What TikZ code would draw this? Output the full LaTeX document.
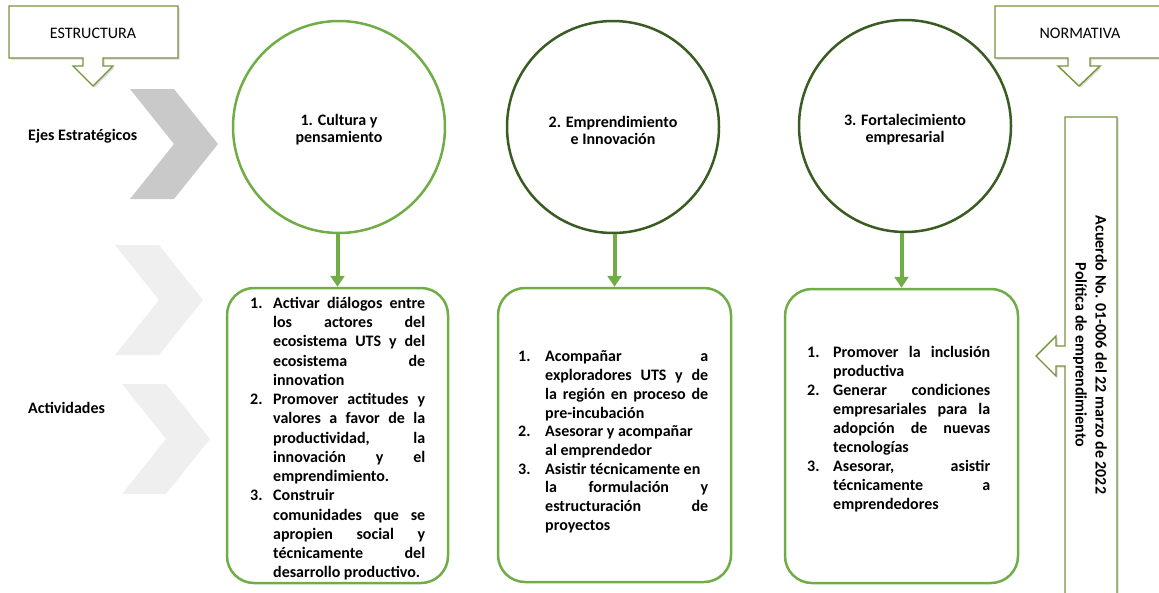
\documentclass[tikz,border=0pt]{standalone}
\usepackage{fontspec}
\setmainfont{Carlito}
\usepackage{tikz}
\usetikzlibrary{shapes, arrows.meta, positioning, shadows}
\definecolor{lightgreen}{HTML}{70AD47}
\definecolor{darkgreen}{HTML}{3A5C22}
\definecolor{olivegreen}{HTML}{77933C}
\definecolor{chevdark}{HTML}{C9C9C9}
\definecolor{chevlight}{HTML}{EFEFEF}
\tikzstyle{eje} = [draw=lightgreen, circle, line width=2.5pt, minimum size=212pt, inner sep=0pt]
\tikzstyle{ejetext} = [inner sep=0pt, align=center, font=\bfseries\fontsize{16}{17}\selectfont]
\tikzstyle{actbox} = [draw=lightgreen, rectangle, rounded corners=27pt, line width=2.5pt]
\tikzstyle{acttext} = [anchor=north west, inner sep=0pt, align=justify, font=\bfseries\fontsize{16}{19}\selectfont]
\tikzstyle{callout} = [draw=olivegreen, line width=1.4pt, fill=white, drop shadow={shadow xshift=1.5pt, shadow yshift=-1.5pt, opacity=0.3}]
\tikzstyle{conn} = [draw=lightgreen, line width=4pt, -{Triangle[width=14pt,length=11pt]}]
\tikzstyle{rowlabel} = [anchor=west, inner sep=0pt, font=\bfseries\fontsize{16}{19}\selectfont]
\newcommand{\actnum}[2]{\par\hangindent=#1\hangafter=1\noindent\makebox[#1][l]{\rule{0pt}{14pt}#2}}
\newcommand{\chevshape}[3]{\fill[#3] (#1,#2) -- ++(44,0) -- ++(44,55) -- ++(-44,55) -- ++(-44,0) -- ++(44,-55) -- cycle;}

\begin{document}
\begin{tikzpicture}[x=1pt, y=-1pt, >=latex]
  \clip (0,0) rectangle (1159,592);
  \chevshape{130}{89}{chevdark}
  \chevshape{115}{245}{chevlight}
  \chevshape{122}{384}{chevlight}
  \node[rowlabel] (ejes) at (28,136) {Ejes Estratégicos};
  \node[rowlabel] (actividades) at (28,408) {Actividades};

  \draw[callout] (9,6) -- (178,6) -- (178,58) -- (103,58) -- (103,66) -- (113,66) -- (93,86)
    -- (73,66) -- (83,66) -- (83,58) -- (9,58) -- cycle;
  \node[font=\fontsize{16}{19}\selectfont] (estructura) at (93,33) {ESTRUCTURA};
  \draw[callout] (995,6) -- (1170,6) -- (1170,58) -- (1090,58) -- (1090,66) -- (1100,66) -- (1079,86)
    -- (1058,66) -- (1068,66) -- (1068,58) -- (995,58) -- cycle;
  \node[font=\fontsize{16}{19}\selectfont] (normativa) at (1080,33) {NORMATIVA};
  \draw[callout] (1065,117) -- (1117,117) -- (1117,610) -- (1065,610) -- (1065,366) -- (1056,366)
    -- (1056,376) -- (1036,356) -- (1056,336) -- (1056,346) -- (1065,346) -- cycle;
  \node[rotate=-90, align=center, font=\bfseries\fontsize{16}{20}\selectfont] (acuerdo) at (1090,355)
    {Acuerdo No. 01-006 del 22 marzo de 2022\\Política de emprendimiento};

  \node[eje] (c1) at (339,127) {};
  \node[eje, draw=darkgreen] (c2) at (613,127) {};
  \node[eje, draw=darkgreen] (c3) at (905,126) {};
  \node[ejetext] (c1text) at (339,130) {1. Cultura y\\pensamiento};
  \node[ejetext] (c2text) at (613,130) {2. Emprendimiento\\e Innovación};
  \node[ejetext] (c3text) at (905,130) {3. Fortalecimiento\\empresarial};

  \node[actbox, minimum width=221pt, minimum height=295pt] (b1) at (337.5,435.5) {};
  \node[actbox, minimum width=233pt, minimum height=294pt] (b2) at (614.5,435) {};
  \node[actbox, minimum width=233pt, minimum height=294pt] (b3) at (901.5,436) {};

  \node[acttext, text width=175pt, font=\bfseries\fontsize{16}{19.25}\selectfont] (t1) at (250,289) {%
    \actnum{23pt}{1.}Activar diálogos entre \linebreak los actores del \linebreak ecosistema UTS y del
    \linebreak ecosistema de \linebreak innovation
    \actnum{23pt}{2.}Promover actitudes y \linebreak valores a favor de la \linebreak productividad, la
    \linebreak innovación y el \linebreak emprendimiento.
    \actnum{23pt}{3.}Construir\\comunidades que se \linebreak apropien social y \linebreak técnicamente del
    \linebreak desarrollo productivo.\par};
  \node[acttext, text width=190pt, font=\bfseries\fontsize{16}{18.7}\selectfont] (t2) at (518,343) {%
    \actnum{27pt}{1.}Acompañar a \linebreak exploradores UTS y de \linebreak la región en proceso de
    \linebreak pre-incubación
    \actnum{27pt}{2.}Asesorar y acompañar\\al emprendedor
    \actnum{27pt}{3.}Asistir técnicamente en\\la formulación y \linebreak estructuración de \linebreak proyectos\par};
  \node[acttext, text width=183pt] (t3) at (807,338) {%
    \actnum{26pt}{1.}Promover la inclusión \linebreak productiva
    \actnum{26pt}{2.}Generar condiciones \linebreak empresariales para la \linebreak adopción de nuevas
    \linebreak tecnologías
    \actnum{26pt}{3.}Asesorar, asistir \linebreak técnicamente a \linebreak emprendedores\par};

  \draw[conn] (c1.south -| b1.north) -- (b1.north);
  \draw[conn] (c2.south -| b2.north) -- (b2.north);
  \draw[conn] (c3.south -| b3.north) -- (b3.north);
\end{tikzpicture}
\end{document}
